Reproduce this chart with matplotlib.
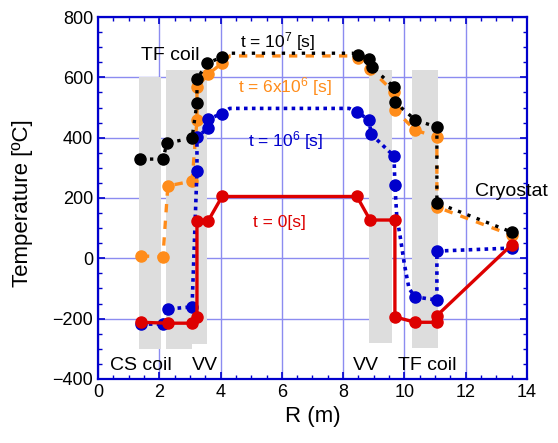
#! usr/bin/env python3

#	import modules
import numpy as np
import matplotlib
matplotlib.use('Agg')
import matplotlib.pyplot as plt

#	data: radius (m) and temperature (C)
r_t0 = [1.40, 2.28, 3.07, 3.23, 3.23, 3.60, 4.05, 8.45, 8.88, 9.69, 9.69, 10.35, 11.06, 11.06, 13.50]
T_t0 = [-212, -215, -215, -195, 125, 125, 205, 205, 127, 127, -194, -212, -212, -190, 45]
mk_t0 = list(range(len(r_t0)))

r_t1e6 = [1.40, 2.12, 2.28, 3.07, 3.23, 3.23, 3.60, 3.60, 4.05, 4.30, 8.20, 8.45, 8.85, 8.91, 9.66, 9.69,
          9.75, 9.85, 10.00, 10.15, 10.35, 11.06, 11.06, 13.50]
T_t1e6 = [-218, -218, -168, -161, 290, 402, 432, 462, 480, 497, 497, 485, 459, 412, 339, 243,
          140, 80, -20, -100, -128, -138, 24, 34]
mk_t1e6 = [0, 1, 2, 3, 4, 5, 6, 7, 8, 11, 12, 13, 14, 15, 20, 21, 22, 23]

r_t6e6 = [1.40, 2.12, 2.28, 3.07, 3.23, 3.23, 3.60, 4.05, 4.30, 8.30, 8.49, 8.88, 9.66, 9.69,
          10.35, 11.06, 11.06, 13.50]
T_t6e6 = [8, 5, 240, 256, 459, 568, 611, 647, 671, 671, 664, 628, 551, 492, 425, 402, 170, 77]
mk_t6e6 = [0, 1, 2, 3, 4, 5, 6, 7, 10, 11, 12, 13, 14, 15, 16, 17]

r_t1e7 = [1.37, 2.12, 2.25, 3.07, 3.23, 3.23, 3.56, 4.05, 4.30, 8.30, 8.49, 8.85, 8.94, 9.66, 9.69,
          10.35, 11.06, 11.06, 13.50]
T_t1e7 = [329, 329, 382, 399, 515, 594, 647, 667, 680, 680, 674, 661, 634, 568, 518, 459, 435, 184, 87]
mk_t1e7 = [0, 1, 2, 3, 4, 5, 6, 7, 10, 11, 12, 13, 14, 15, 16, 17, 18]

#	component regions (grey bands)
band_left = [1.33, 2.22, 3.07, 8.86, 10.26]
band_right = [2.07, 3.07, 3.56, 9.60, 11.10]
band_bottom = [-300, -300, -285, -282, -297]
band_top = [600, 625, 625, 625, 625]

plt.rcParams['font.family'] = ['Liberation Sans', 'DejaVu Sans']
plt.rcParams['mathtext.default'] = 'regular'

fig = plt.figure(figsize=(5.58, 4.43), dpi=100)
ax = fig.add_axes([0.1756, 0.1445, 0.7688, 0.8171])

#   grey bands
ax.bar(band_left, np.array(band_top) - np.array(band_bottom), bottom=band_bottom,
       width=np.array(band_right) - np.array(band_left), align='edge', color='#dddddd', zorder=1)

#   the four temperature profiles
ax.plot(r_t0, T_t0, color='#dd0000', lw=2.4, ls='-', marker='o', ms=8, markevery=mk_t0, zorder=5)
ax.plot(r_t1e6, T_t1e6, color='#0000cc', lw=2.6, ls=(0, (1, 1.2)), marker='o', ms=8,
        markevery=mk_t1e6, zorder=4)
ax.plot(r_t6e6, T_t6e6, color='#ff8c1a', lw=2.4, ls=(0, (2.5, 2.5)), marker='o', ms=8,
        markevery=mk_t6e6, zorder=3)
ax.plot(r_t1e7, T_t1e7, color='black', lw=2.4, ls=(0, (1, 2)), marker='o', ms=8,
        markevery=mk_t1e7, zorder=4)

#   labels on the plot
ax.text(4.63, 717, 't = 10$^{7}$ [s]', color='black', fontsize=12.5, va='center')
ax.text(4.57, 571, 't = 6x10$^{6}$ [s]', color='#ff8c1a', fontsize=12.5, va='center')
ax.text(4.90, 392, 't = 10$^{6}$ [s]', color='#0000cc', fontsize=12.5, va='center')
ax.text(5.06, 120, 't = 0[s]', color='#dd0000', fontsize=12.5, va='center')
ax.text(1.40, 674, 'TF coil', color='black', fontsize=14, va='center')
ax.text(12.3, 222, 'Cryostat', color='black', fontsize=14, va='center', clip_on=False)
ax.text(0.38, -355, 'CS coil', color='black', fontsize=14, va='center')
ax.text(3.05, -355, 'VV', color='black', fontsize=14, va='center')
ax.text(8.33, -355, 'VV', color='black', fontsize=14, va='center')
ax.text(9.8, -355, 'TF coil', color='black', fontsize=14, va='center')

#   axes
ax.set_xlim([0, 14])
ax.set_ylim([-400, 800])
ax.set_xticks(np.arange(0, 15, 2))
ax.set_yticks(np.arange(-400, 801, 200))
ax.set_xticks(np.arange(0, 14.01, 0.5), minor=True)
ax.set_yticks(np.arange(-400, 801, 50), minor=True)
ax.grid(True, which='major', color='#8c8cf0', lw=1.0, zorder=0)
ax.set_axisbelow(True)
ax.tick_params(axis='both', which='both', direction='in', top=True, right=True, color='#0000cc',
               labelsize=13, labelcolor='black')
ax.tick_params(which='major', length=5, width=1.2)
ax.tick_params(which='minor', length=3, width=1.0)
for sp in ax.spines.values():
    sp.set_color('#0000cc')
    sp.set_linewidth(1.6)
ax.set_xlabel('R (m)', fontsize=16)
ax.set_ylabel('Temperature [ºC]', fontsize=16)
ax.yaxis.set_label_coords(-0.152, 0.486)

fig.savefig('out.png', dpi=100)
